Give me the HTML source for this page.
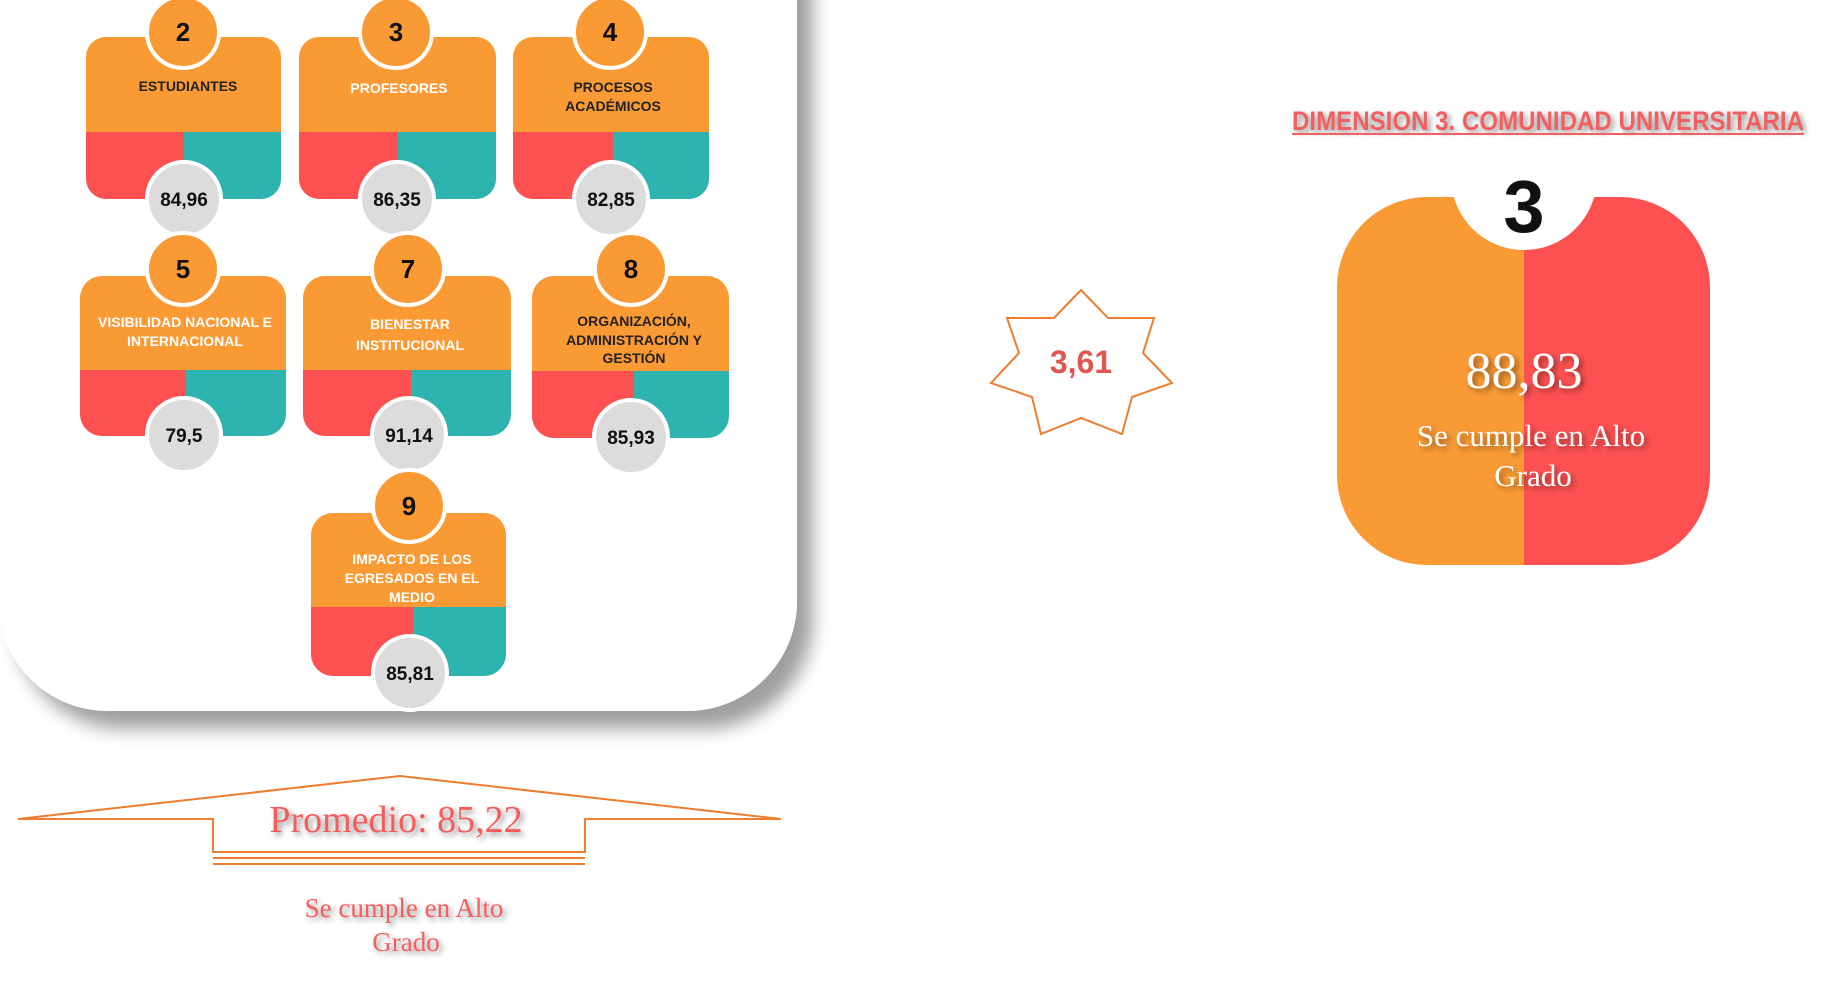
<!DOCTYPE html>
<html><head><meta charset="utf-8"><style>
html,body{margin:0;padding:0;background:#fff;width:1844px;height:986px;overflow:hidden}
svg{display:block}
.lab{font-family:"Liberation Sans Narrow","Liberation Sans",sans-serif;font-weight:bold;font-size:14px;text-anchor:middle}
.num{font-family:"Liberation Sans Narrow","Liberation Sans",sans-serif;font-weight:bold;font-size:26px;text-anchor:middle;fill:#111}
.val{font-family:"Liberation Sans Narrow","Liberation Sans",sans-serif;font-weight:bold;font-size:19px;text-anchor:middle;fill:#111}
.serif{font-family:"Liberation Serif",serif;text-anchor:middle}
</style></head><body>
<svg width="1844" height="986" viewBox="0 0 1844 986" xmlns="http://www.w3.org/2000/svg">
<defs>
<filter id="sh" x="-10%" y="-10%" width="130%" height="130%">
<feGaussianBlur in="SourceAlpha" stdDeviation="9"/>
<feOffset dx="16" dy="18"/>
<feComponentTransfer><feFuncA type="linear" slope="0.38"/></feComponentTransfer>
<feMerge><feMergeNode/><feMergeNode in="SourceGraphic"/></feMerge>
</filter>
<filter id="ts" x="-10%" y="-30%" width="120%" height="160%">
<feGaussianBlur in="SourceAlpha" stdDeviation="3"/>
<feOffset dx="3" dy="3"/>
<feComponentTransfer><feFuncA type="linear" slope="0.45"/></feComponentTransfer>
<feMerge><feMergeNode/><feMergeNode in="SourceGraphic"/></feMerge>
</filter>
<clipPath id="bc"><rect x="1337" y="197" width="373" height="368" rx="90"/></clipPath>
<clipPath id="cc"><rect x="1400" y="150" width="250" height="200"/></clipPath>
</defs>

<rect x="-2" y="-130" width="799" height="841" rx="110" fill="#fff" filter="url(#sh)"/>

<!-- Card 2 -->
<clipPath id="c2"><rect x="86" y="37" width="195" height="162" rx="20"/></clipPath>
<g clip-path="url(#c2)">
<rect x="86" y="37" width="195" height="95" fill="#fa9a35"/>
<rect x="86" y="132" width="98" height="67" fill="#fd5151"/>
<rect x="184" y="132" width="97" height="67" fill="#2db3b0"/>
</g>
<circle cx="183" cy="32" r="36" fill="#fa9a35" stroke="#fff" stroke-width="4"/>
<text class="num" x="183" y="41">2</text>
<text class="lab" x="188" y="91" fill="#222">ESTUDIANTES</text>
<circle cx="184" cy="199" r="37" fill="#dcdcdc" stroke="#fff" stroke-width="4"/>
<text class="val" x="184" y="206">84,96</text>
<!-- Card 3 -->
<clipPath id="c3"><rect x="299" y="37" width="197" height="162" rx="20"/></clipPath>
<g clip-path="url(#c3)">
<rect x="299" y="37" width="197" height="95" fill="#fa9a35"/>
<rect x="299" y="132" width="99" height="67" fill="#fd5151"/>
<rect x="398" y="132" width="98" height="67" fill="#2db3b0"/>
</g>
<circle cx="396" cy="32" r="36" fill="#fa9a35" stroke="#fff" stroke-width="4"/>
<text class="num" x="396" y="41">3</text>
<text class="lab" x="399" y="93" fill="#fff">PROFESORES</text>
<circle cx="397" cy="199" r="37" fill="#dcdcdc" stroke="#fff" stroke-width="4"/>
<text class="val" x="397" y="206">86,35</text>
<!-- Card 4 -->
<clipPath id="c4"><rect x="513" y="37" width="196" height="162" rx="20"/></clipPath>
<g clip-path="url(#c4)">
<rect x="513" y="37" width="196" height="95" fill="#fa9a35"/>
<rect x="513" y="132" width="100" height="67" fill="#fd5151"/>
<rect x="613" y="132" width="96" height="67" fill="#2db3b0"/>
</g>
<circle cx="610" cy="32" r="36" fill="#fa9a35" stroke="#fff" stroke-width="4"/>
<text class="num" x="610" y="41">4</text>
<text class="lab" x="613" y="92" fill="#222">PROCESOS</text>
<text class="lab" x="613" y="111" fill="#222">ACADÉMICOS</text>
<circle cx="611" cy="199" r="37" fill="#dcdcdc" stroke="#fff" stroke-width="4"/>
<text class="val" x="611" y="206">82,85</text>
<!-- Card 5 -->
<clipPath id="c5"><rect x="80" y="276" width="206" height="160" rx="22"/></clipPath>
<g clip-path="url(#c5)">
<rect x="80" y="276" width="206" height="94" fill="#fa9a35"/>
<rect x="80" y="370" width="105" height="66" fill="#fd5151"/>
<rect x="185" y="370" width="101" height="66" fill="#2db3b0"/>
</g>
<circle cx="183" cy="269" r="36" fill="#fa9a35" stroke="#fff" stroke-width="4"/>
<text class="num" x="183" y="278">5</text>
<text class="lab" x="185" y="327" fill="#fff" font-size="14">VISIBILIDAD NACIONAL E</text>
<text class="lab" x="185" y="346" fill="#fff" font-size="14">INTERNACIONAL</text>
<circle cx="184" cy="435" r="37" fill="#dcdcdc" stroke="#fff" stroke-width="4"/>
<text class="val" x="184" y="442">79,5</text>
<!-- Card 7 -->
<clipPath id="c7"><rect x="303" y="276" width="208" height="160" rx="22"/></clipPath>
<g clip-path="url(#c7)">
<rect x="303" y="276" width="208" height="94" fill="#fa9a35"/>
<rect x="303" y="370" width="108" height="66" fill="#fd5151"/>
<rect x="411" y="370" width="100" height="66" fill="#2db3b0"/>
</g>
<circle cx="408" cy="269" r="36" fill="#fa9a35" stroke="#fff" stroke-width="4"/>
<text class="num" x="408" y="278">7</text>
<text class="lab" x="410" y="329" fill="#fff" font-size="18">BIENESTAR</text>
<text class="lab" x="410" y="350" fill="#fff" font-size="18">INSTITUCIONAL</text>
<circle cx="409" cy="435" r="37" fill="#dcdcdc" stroke="#fff" stroke-width="4"/>
<text class="val" x="409" y="442">91,14</text>
<!-- Card 8 -->
<clipPath id="c8"><rect x="532" y="276" width="197" height="162" rx="22"/></clipPath>
<g clip-path="url(#c8)">
<rect x="532" y="276" width="197" height="95" fill="#fa9a35"/>
<rect x="532" y="371" width="102" height="67" fill="#fd5151"/>
<rect x="634" y="371" width="95" height="67" fill="#2db3b0"/>
</g>
<circle cx="631" cy="269" r="36" fill="#fa9a35" stroke="#fff" stroke-width="4"/>
<text class="num" x="631" y="278">8</text>
<text class="lab" x="634" y="326" fill="#222" font-size="14">ORGANIZACIÓN,</text>
<text class="lab" x="634" y="345" fill="#222" font-size="14">ADMINISTRACIÓN Y</text>
<text class="lab" x="634" y="363" fill="#222" font-size="14">GESTIÓN</text>
<circle cx="631" cy="437" r="37" fill="#dcdcdc" stroke="#fff" stroke-width="4"/>
<text class="val" x="631" y="444">85,93</text>
<!-- Card 9 -->
<clipPath id="c9"><rect x="311" y="513" width="195" height="163" rx="22"/></clipPath>
<g clip-path="url(#c9)">
<rect x="311" y="513" width="195" height="94" fill="#fa9a35"/>
<rect x="311" y="607" width="102" height="69" fill="#fd5151"/>
<rect x="413" y="607" width="93" height="69" fill="#2db3b0"/>
</g>
<circle cx="409" cy="506" r="36" fill="#fa9a35" stroke="#fff" stroke-width="4"/>
<text class="num" x="409" y="515">9</text>
<text class="lab" x="412" y="564" fill="#fff" font-size="14">IMPACTO DE LOS</text>
<text class="lab" x="412" y="583" fill="#fff" font-size="14">EGRESADOS EN EL</text>
<text class="lab" x="412" y="602" fill="#fff" font-size="14">MEDIO</text>
<circle cx="410" cy="673" r="37" fill="#dcdcdc" stroke="#fff" stroke-width="4"/>
<text class="val" x="410" y="680">85,81</text>

<!-- Arrow -->
<g fill="none" stroke="#ed7d31" stroke-width="2">
<polyline points="18,819 400,776 781,819 585,819 585,852 213,852 213,819 18,819" fill="#fff"/>
<line x1="213" y1="858" x2="585" y2="858"/>
<line x1="213" y1="864" x2="585" y2="864"/>
</g>
<text class="serif" x="396" y="832" font-size="38" fill="#f55b5b" filter="url(#ts)">Promedio: 85,22</text>
<text class="serif" x="404" y="917" font-size="27" fill="#f55b5b" filter="url(#ts)">Se cumple en Alto</text>
<text class="serif" x="406" y="951" font-size="27" fill="#f55b5b" filter="url(#ts)">Grado</text>

<!-- Star -->
<polygon transform="translate(1081,362)" points="0,-72 27,-44 73,-44 62,-9 91,21 51,35 41,72 0,56 -40,72 -49,35 -90,21 -62,-9 -74,-44 -27,-44" fill="#fff" stroke="#ed7d31" stroke-width="2"/>
<text x="1081" y="373" font-family="Liberation Sans Narrow, Liberation Sans, sans-serif" font-weight="bold" font-size="32" fill="#e0574f" text-anchor="middle">3,61</text>

<!-- Big card -->
<g clip-path="url(#bc)">
<rect x="1337" y="197" width="187" height="368" fill="#fa9a35"/>
<rect x="1524" y="197" width="186" height="368" fill="#fd5151"/>
</g>
<circle cx="1524" cy="177" r="73" fill="#fff" clip-path="url(#cc)"/>
<text x="1524" y="232" font-family="Liberation Sans, sans-serif" font-weight="bold" font-size="74" fill="#111" text-anchor="middle">3</text>
<text class="serif" x="1524" y="388" font-size="52" fill="#fff" filter="url(#ts)">88,83</text>
<text class="serif" x="1531" y="446" font-size="31" fill="#fff" filter="url(#ts)">Se cumple en Alto</text>
<text class="serif" x="1533" y="486" font-size="31" fill="#fff" filter="url(#ts)">Grado</text>

<!-- Title -->
<text x="1548" y="130" font-family="Liberation Sans Narrow, Liberation Sans, sans-serif" font-weight="bold" font-size="27" fill="#f06060" text-anchor="middle" textLength="512" lengthAdjust="spacingAndGlyphs" filter="url(#ts)">DIMENSION 3. COMUNIDAD UNIVERSITARIA</text>
<line x1="1292" y1="134" x2="1804" y2="134" stroke="#f06060" stroke-width="2"/>
</svg>
</body></html>
